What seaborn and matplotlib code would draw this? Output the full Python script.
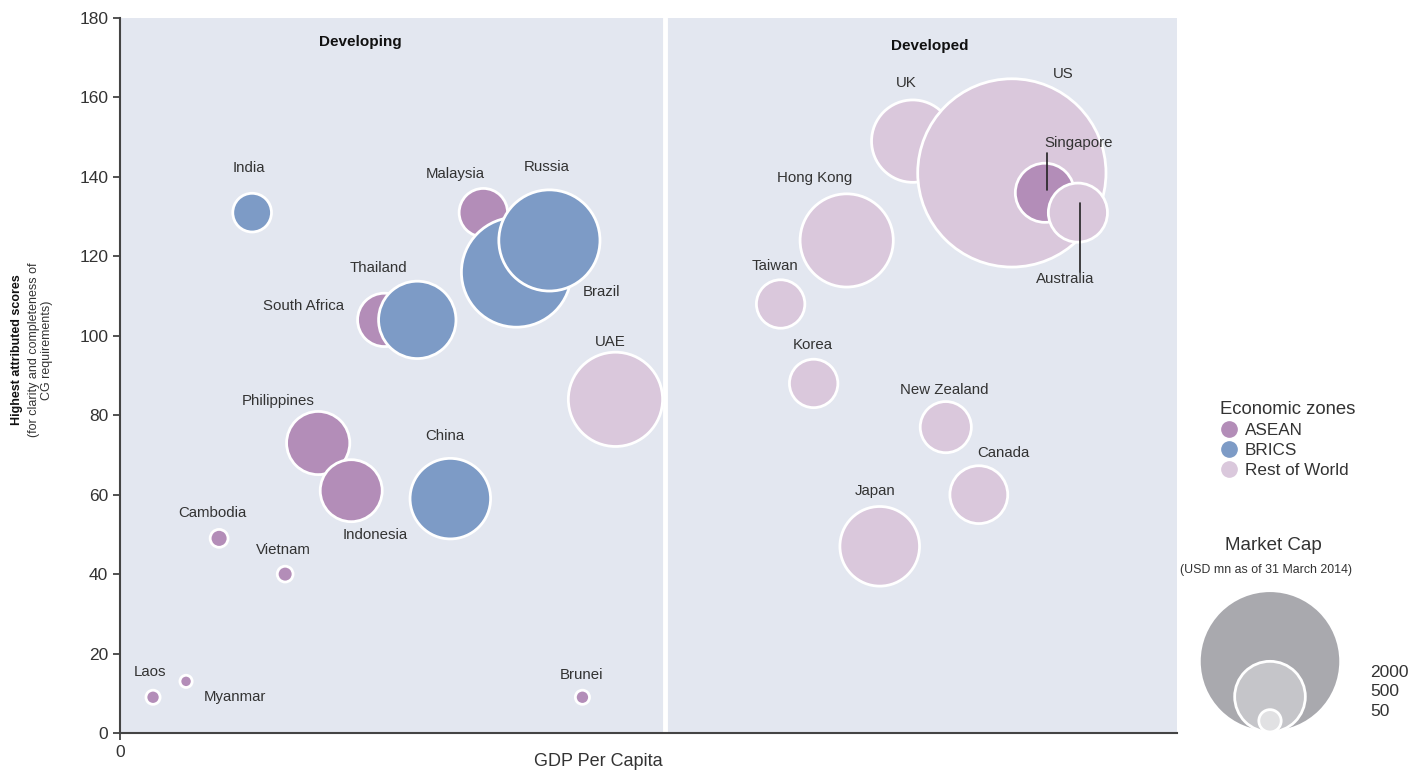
import numpy as np
import pandas as pd
import matplotlib.pyplot as plt
import seaborn as sns

# Data
countries = ['Laos', 'Myanmar', 'Cambodia', 'Vietnam', 'India', 'Philippines', 'Indonesia',
             'Thailand', 'South Africa', 'Malaysia', 'Brazil', 'Russia', 'China', 'Brunei', 'UAE',
             'Taiwan', 'Korea', 'Hong Kong', 'UK', 'US', 'Singapore', 'Australia',
             'New Zealand', 'Canada', 'Japan']
gdp_rank = [1, 2, 3, 5, 4, 6, 7, 8, 9, 11, 12, 13, 10, 14, 15,
            20, 21, 22, 24, 27, 28, 29, 25, 26, 23]
scores = [9, 13, 49, 40, 131, 73, 61, 104, 104, 131, 116, 124, 59, 9, 84,
          108, 88, 124, 149, 141, 136, 131, 77, 60, 47]
market_cap = [20, 15, 32, 25, 150, 400, 385, 285, 600, 235, 1210, 1025, 650, 20, 890,
              235, 235, 870, 680, 3550, 350, 350, 262, 335, 635]
zones = ['ASEAN', 'ASEAN', 'ASEAN', 'ASEAN', 'BRICS', 'ASEAN', 'ASEAN',
         'ASEAN', 'BRICS', 'ASEAN', 'BRICS', 'BRICS', 'BRICS', 'ASEAN', 'Rest of World',
         'Rest of World', 'Rest of World', 'Rest of World', 'Rest of World', 'Rest of World',
         'ASEAN', 'Rest of World', 'Rest of World', 'Rest of World', 'Rest of World']
legend_caps = [2000, 500, 50]

# label offsets from bubble centre (points)
label_offsets = {
    'Laos': (-2, 18), 'Myanmar': (35, -11), 'Cambodia': (-5, 18), 'Vietnam': (-1, 17),
    'India': (-2, 32), 'Philippines': (-29, 30), 'Indonesia': (17, -32),
    'Thailand': (-4, 37), 'South Africa': (-82, 10), 'Malaysia': (-20, 28),
    'Brazil': (61, -14), 'Russia': (-2, 53), 'China': (-4, 45), 'Brunei': (-1, 16),
    'UAE': (-4, 41), 'Taiwan': (-4, 27), 'Korea': (-1, 28), 'Hong Kong': (-23, 45),
    'UK': (-5, 42), 'US': (37, 71), 'Singapore': (24, 36), 'Australia': (-9, -48),
    'New Zealand': (-1, 27), 'Canada': (18, 30), 'Japan': (-3, 40),
}

palette = {'ASEAN': '#b38db8', 'BRICS': '#7d9bc6', 'Rest of World': '#dac8dc'}
k = (2 * 0.72 * 1.58) ** 2  # area per unit of market cap (pt^2)

df = pd.DataFrame({'country': countries, 'gdp': gdp_rank, 'score': scores,
                   'cap': market_cap, 'zone': zones})

sns.set_style('ticks')
plt.rcParams['font.family'] = ['Liberation Sans', 'DejaVu Sans']
text_col = '#333333'

fig = plt.figure(figsize=(14.24, 7.73), dpi=100)
ax = fig.add_axes([120 / 1424, 1 - 733 / 773, 1057 / 1424, 715 / 773])
ax.set_facecolor('#e3e7f0')

sns.scatterplot(data=df, x='gdp', y='score', hue='zone', palette=palette,
                size='cap', sizes=(0, k * 4000), size_norm=(0, 4000),
                edgecolor='white', linewidth=2, alpha=1, legend=False, ax=ax)

ax.axvline(16.5, color='white', lw=3.5)

for _, r in df.iterrows():
    dx, dy = label_offsets[r['country']]
    ax.annotate(r['country'], (r['gdp'], r['score']), xytext=(dx, dy),
                textcoords='offset points', ha='center', va='center',
                fontsize=10.8, color=text_col)

# leader lines for Singapore / Australia
for name, y0, y1 in [('Singapore', 29, 2), ('Australia', 7, -43)]:
    row = df[df['country'] == name].iloc[0]
    ax.plot([row['gdp'] + 0.05] * 2,
            [row['score'] + y0 / 2.86, row['score'] + y1 / 2.86],
            color='#222222', lw=1.2)

ax.text(7.27, 174, 'Developing', ha='center', va='center', fontsize=11,
        fontweight='bold', color='#111111')
ax.text(24.5, 173, 'Developed', ha='center', va='center', fontsize=11,
        fontweight='bold', color='#111111')

ax.set_xlim(0, 32)
ax.set_ylim(0, 180)
ax.set_yticks(range(0, 181, 20))
ax.set_xticks([0])
ax.tick_params(axis='both', labelsize=12.5, colors=text_col, length=5, width=1.2)
for s in ['top', 'right']:
    ax.spines[s].set_visible(False)
for s in ['left', 'bottom']:
    ax.spines[s].set_color('#444444')
    ax.spines[s].set_linewidth(1.5)
ax.set_ylabel('')
ax.set_xlabel('GDP Per Capita', fontsize=13, color=text_col)
ax.xaxis.set_label_coords((598 - 120) / 1057, -0.028)

fig.text(0.012, 1 - 350 / 773, 'Highest attributed scores', rotation=90,
         ha='center', va='center', fontsize=9, fontweight='bold', color='#111111')
fig.text(0.0285, 1 - 350 / 773, '(for clarity and completeness of\nCG requirements)',
         rotation=90, ha='center', va='center', fontsize=9, color=text_col,
         multialignment='center', linespacing=1.2)

# Economic zones legend
handles = [plt.Line2D([], [], marker='o', ls='', markersize=11, color=palette[z])
           for z in palette]
leg = fig.legend(handles, list(palette), title='Economic zones', loc='upper left',
                 bbox_to_anchor=(1220 / 1424, 1 - 401 / 773), frameon=False,
                 fontsize=12.3, title_fontsize=13.3, handletextpad=0.45,
                 labelspacing=0.3, borderpad=0, handlelength=1.0,
                 borderaxespad=0, alignment='left')
for t in leg.get_texts():
    t.set_color(text_col)
leg.get_title().set_color(text_col)

# Market cap legend (axes in pixel units)
lax = fig.add_axes([1180 / 1424, 0, 244 / 1424, 1 - 580 / 773])
cap_df = pd.DataFrame({'cap': legend_caps,
                       'x': [1270] * 3,
                       'y': [733 - 1.58 * np.sqrt(v) - 1 for v in legend_caps],
                       'shade': ['big', 'mid', 'small']})
sns.scatterplot(data=cap_df, x='x', y='y', hue='shade',
                palette={'big': '#a9a9ae', 'mid': '#c5c5c9', 'small': '#e1e1e3'},
                size='cap', sizes=(0, k * 4000), size_norm=(0, 4000),
                edgecolor='white', linewidth=2, alpha=1, legend=False, ax=lax)
lax.set_xlim(1180, 1424)
lax.set_ylim(773, 580)
lax.axis('off')
fig.text(1273 / 1424, 1 - 545 / 773, 'Market Cap', ha='center', va='center',
         fontsize=13.5, color=text_col)
fig.text(1266 / 1424, 1 - 570 / 773, '(USD mn as of 31 March 2014)', ha='center',
         va='center', fontsize=8.9, color=text_col)
fig.text(1370 / 1424, 1 - 692 / 773, '\n'.join(str(v) for v in legend_caps),
         ha='left', va='center', fontsize=12.5, color=text_col, linespacing=1.4)

fig.savefig('out.png', dpi=100)
